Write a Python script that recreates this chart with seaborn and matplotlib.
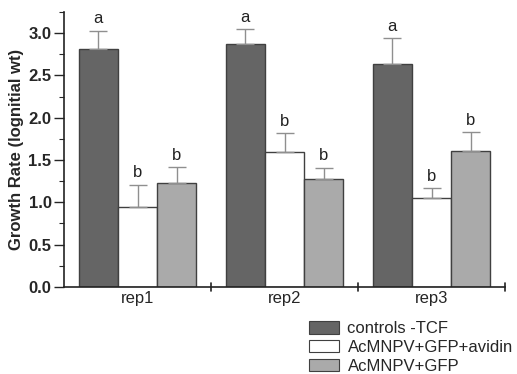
import matplotlib
matplotlib.use("Agg")
import matplotlib.pyplot as plt
import seaborn as sns
import pandas as pd
import numpy as np
from matplotlib.patches import Patch
from matplotlib.ticker import MultipleLocator

reps = ["rep1", "rep2", "rep3"]
treatments = ["controls -TCF", "AcMNPV+GFP+avidin", "AcMNPV+GFP"]
means = {
    "controls -TCF": [2.81, 2.87, 2.63],
    "AcMNPV+GFP+avidin": [0.95, 1.59, 1.05],
    "AcMNPV+GFP": [1.23, 1.27, 1.61],
}
errors = {
    "controls -TCF": [0.22, 0.18, 0.31],
    "AcMNPV+GFP+avidin": [0.26, 0.23, 0.12],
    "AcMNPV+GFP": [0.19, 0.14, 0.22],
}
letters = {
    "controls -TCF": ["a", "a", "a"],
    "AcMNPV+GFP+avidin": ["b", "b", "b"],
    "AcMNPV+GFP": ["b", "b", "b"],
}
colors = ["#656565", "#ffffff", "#aaaaaa"]

rows = []
for t in treatments:
    for i, r in enumerate(reps):
        rows.append({"rep": r, "treatment": t, "value": means[t][i]})
df = pd.DataFrame(rows)

sns.set_style("ticks")
plt.rcParams["font.family"] = ["Liberation Sans", "DejaVu Sans"]

fig = plt.figure(figsize=(5.17, 3.74), dpi=100)
ax = fig.add_axes([0.124, 0.233, 0.853, 0.735])

sns.barplot(data=df, x="rep", y="value", hue="treatment", order=reps,
            hue_order=treatments, palette=colors, width=0.8, ax=ax,
            edgecolor="#404040", linewidth=1.0, errorbar=None, legend=False,
            saturation=1)

for j, t in enumerate(treatments):
    container = ax.containers[j]
    for i, bar in enumerate(container):
        x = bar.get_x() + bar.get_width() / 2
        h = bar.get_height()
        e = errors[t][i]
        ax.errorbar(x, h, yerr=[[0], [e]], fmt="none", ecolor="#8f8f8f",
                    elinewidth=1.0, capsize=6.5, capthick=1.0, zorder=1)
        ax.text(x, h + e + 0.05, letters[t][i], ha="center", va="bottom",
                fontsize=12, color="#222222")

ax.set_xlim(-0.5, 2.5)
ax.set_ylim(0, 3.25)
ax.yaxis.set_minor_locator(MultipleLocator(0.25))
ax.set_yticks(np.arange(0, 3.01, 0.5))
ax.set_yticklabels([f"{v:.1f}" for v in np.arange(0, 3.01, 0.5)],
                   fontweight="bold", fontsize=12)
ax.set_xticks([0, 1, 2])
ax.set_xticklabels(reps, fontsize=12)
ax.tick_params(axis="x", length=0, pad=3)
ax.tick_params(axis="y", which="major", length=7, width=1, direction="out", pad=2)
ax.tick_params(axis="y", which="minor", length=3.5, width=0.8, direction="out")
for xb in [0.5, 1.5, 2.5]:
    ax.plot([xb, xb], [-0.045, 0.045], color="#222222", lw=1.2,
            clip_on=False, transform=ax.transData)
ax.set_xlabel("")
ax.set_ylabel("Growth Rate (lognitial wt)", fontweight="bold", fontsize=12, labelpad=3)
sns.despine(ax=ax)
for s in ["left", "bottom"]:
    ax.spines[s].set_linewidth(1.2)
    ax.spines[s].set_color("#222222")

handles = [Patch(facecolor=c, edgecolor="#404040", linewidth=0.8) for c in colors]
fig.legend(handles, treatments, loc="upper left",
           bbox_to_anchor=(0.598, 0.142), frameon=False, fontsize=12,
           handlelength=1.8, handleheight=0.8, handletextpad=0.5,
           labelspacing=0.22, borderpad=0.0, borderaxespad=0.0)

fig.savefig("out.png", dpi=100)
